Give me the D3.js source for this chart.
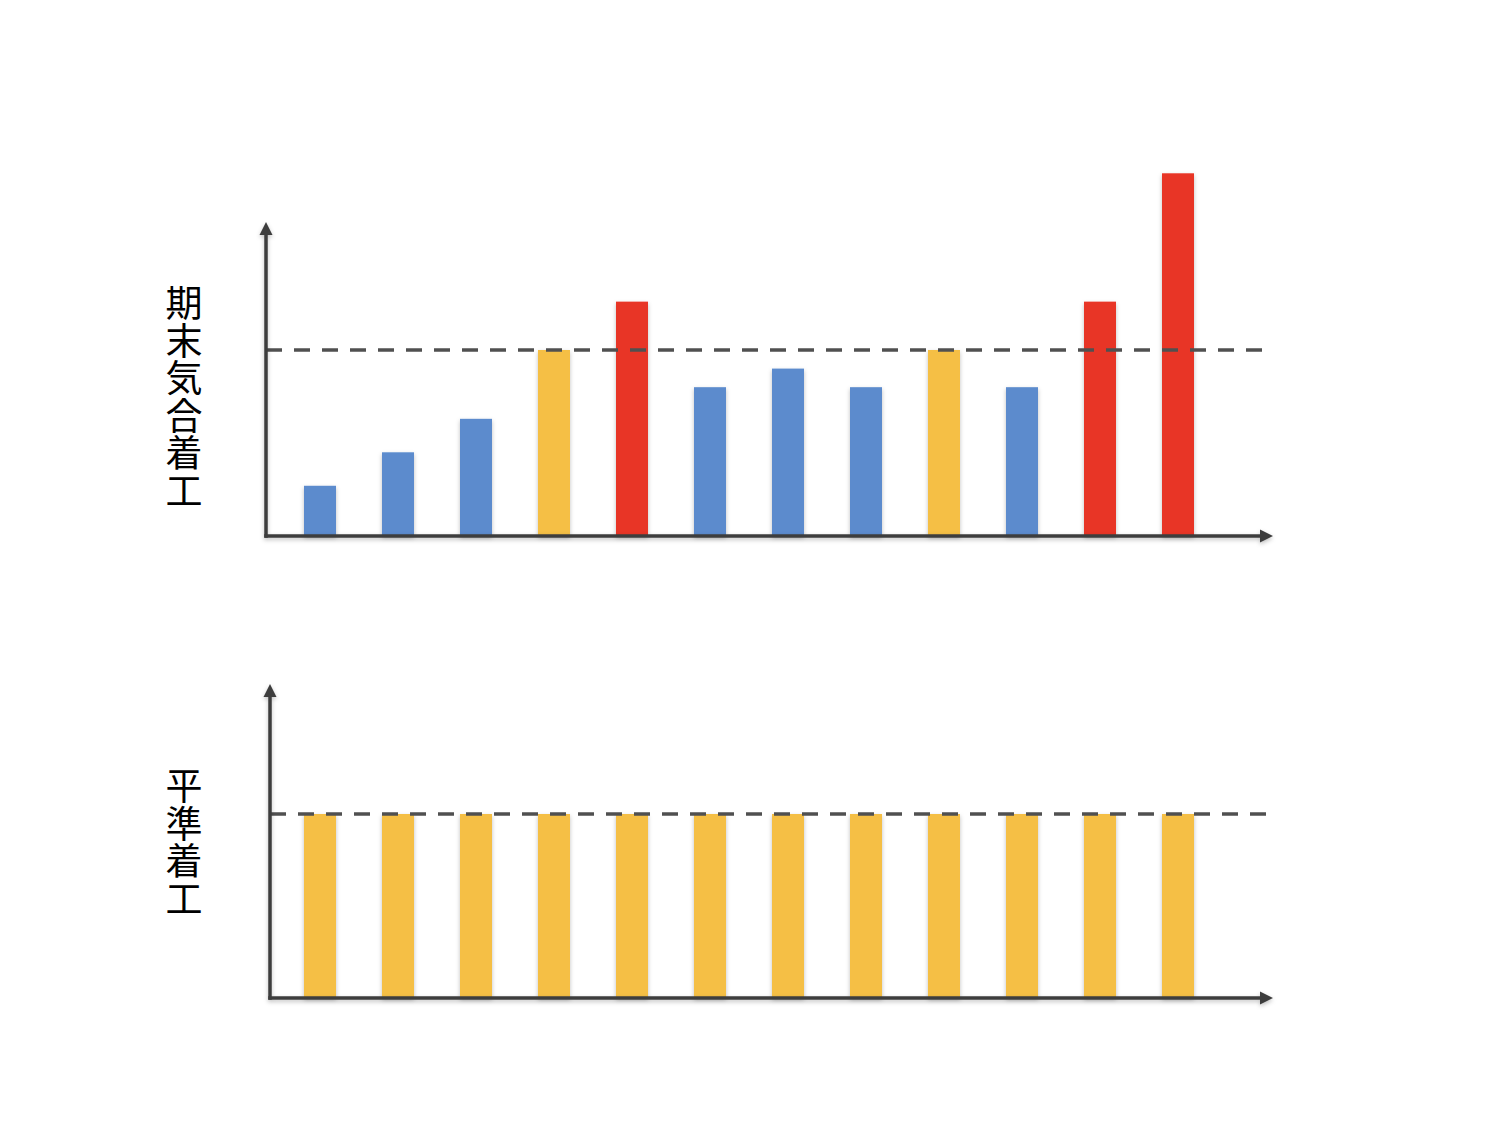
<!DOCTYPE html>
<html>
<head>
<meta charset="utf-8">
<script src="https://cdn.jsdelivr.net/npm/d3@7"></script>
<style>
  html, body { margin: 0; padding: 0; background: #fff; }
  svg { display: block; }
</style>
</head>
<body>
<svg id="chart" width="1510" height="1126"></svg>
<script>
// ---- data ----
const categories = ["1","2","3","4","5","6","7","8","9","10","11","12"];
const topValues = [27, 45, 63, 100, 126, 80, 90, 80, 100, 80, 126, 195];
const topColors = ["blue","blue","blue","yellow","red","blue","blue","blue","yellow","blue","red","red"];
const bottomValues = [100, 100, 100, 100, 100, 100, 100, 100, 100, 100, 100, 100];
const bottomColors = ["yellow","yellow","yellow","yellow","yellow","yellow","yellow","yellow","yellow","yellow","yellow","yellow"];
const threshold = 100;
const topLabel = "期末気合着工";
const bottomLabel = "平準着工";

const palette = { blue: "#5B8BCD", yellow: "#F5BF44", red: "#E83525" };

const svg = d3.select("#chart");
const defs = svg.append("defs");
const f = defs.append("filter").attr("id", "sh").attr("x", "-20%").attr("y", "-20%").attr("width", "140%").attr("height", "140%");
f.append("feDropShadow").attr("dx", 0).attr("dy", 2).attr("stdDeviation", 2).attr("flood-color", "#000").attr("flood-opacity", 0.25);

const mk = defs.append("marker").attr("id", "arrow").attr("viewBox", "0 0 10 10")
  .attr("refX", 1).attr("refY", 5).attr("markerWidth", 3.8).attr("markerHeight", 3.8)
  .attr("markerUnits", "strokeWidth").attr("orient", "auto");
mk.append("path").attr("d", "M0,0 L10,5 L0,10 Z").attr("fill", "#3d3d3d");

function panel(cfg) {
  const x = d3.scalePoint().domain(categories).range([cfg.x0, cfg.x1]);
  const y = d3.scaleLinear().domain([0, threshold]).range([cfg.base, cfg.thrY]);
  const g = svg.append("g");

  // bars
  g.selectAll("rect.bar").data(cfg.values).join("rect")
    .attr("class", "bar")
    .attr("x", (d, i) => x(categories[i]) - 16)
    .attr("width", 32)
    .attr("y", d => y(d))
    .attr("height", d => cfg.base - y(d))
    .attr("fill", (d, i) => palette[cfg.colors[i]])
    .attr("filter", "url(#sh)");

  // dashed threshold
  g.append("line")
    .attr("x1", cfg.ax).attr("x2", cfg.dashEnd)
    .attr("y1", y(threshold)).attr("y2", y(threshold))
    .attr("stroke", "#505050").attr("stroke-width", 3.5)
    .attr("stroke-dasharray", "16,12");

  // axes
  const ag = g.append("g").attr("filter", "url(#sh)");
  ag.append("line").attr("x1", cfg.ax).attr("x2", cfg.ax)
    .attr("y1", cfg.base + 1.75).attr("y2", cfg.yTop)
    .attr("stroke", "#3d3d3d").attr("stroke-width", 3.5).attr("marker-end", "url(#arrow)");
  ag.append("line").attr("x1", cfg.ax - 1.75).attr("x2", cfg.xEnd)
    .attr("y1", cfg.base).attr("y2", cfg.base)
    .attr("stroke", "#3d3d3d").attr("stroke-width", 3.5).attr("marker-end", "url(#arrow)");

  // vertical label, one character per line
  const t = g.append("text")
    .attr("font-family", "'Noto Sans CJK JP', 'Noto Sans CJK SC', sans-serif")
    .attr("font-size", 37).attr("fill", "#000").attr("text-anchor", "middle");
  Array.from(cfg.label).forEach((c, i) => {
    t.append("tspan").attr("x", 184).attr("y", cfg.labelY + i * 37.5).text(c);
  });
}

panel({ values: topValues, colors: topColors, x0: 320, x1: 1178, base: 536, thrY: 350,
        ax: 266, yTop: 234, xEnd: 1261, dashEnd: 1263, label: topLabel, labelY: 317 });
panel({ values: bottomValues, colors: bottomColors, x0: 320, x1: 1178, base: 998, thrY: 814,
        ax: 270, yTop: 696, xEnd: 1261, dashEnd: 1267, label: bottomLabel, labelY: 800 });
</script>
</body>
</html>
